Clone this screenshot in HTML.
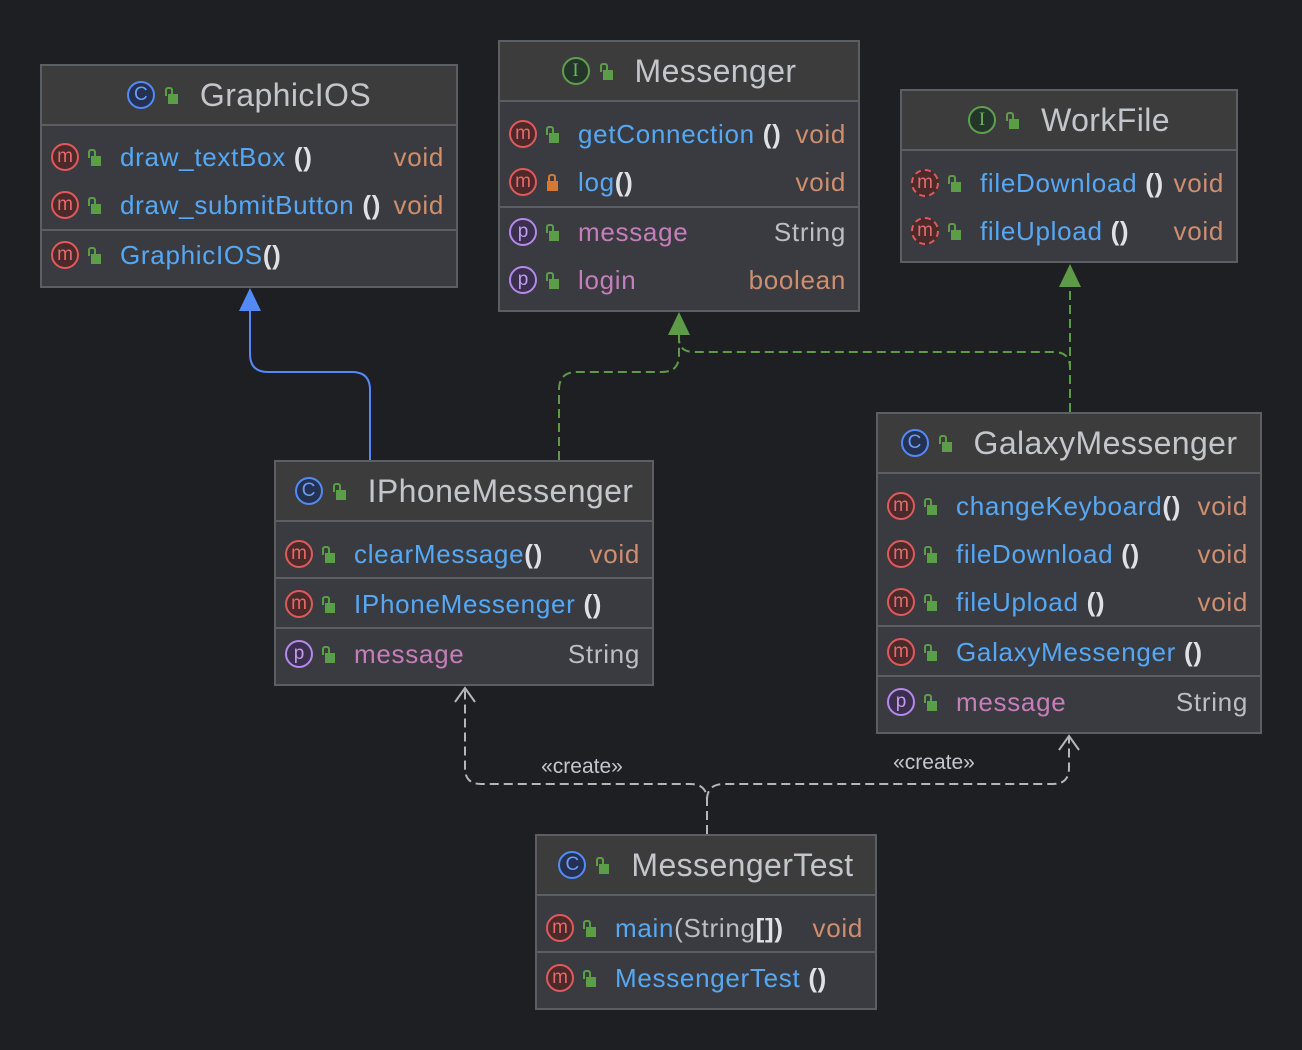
<!DOCTYPE html>
<html><head><meta charset="utf-8"><style>
body{margin:0;width:1302px;height:1050px;background:#1e1f22;position:relative;overflow:hidden;font-family:"Liberation Sans",sans-serif}
.b{position:absolute;background:#393b40;border:2px solid #5b5e63;box-sizing:border-box}
.h{position:absolute;left:0;right:0;top:0;background:#3c3c3c;border-bottom:2px solid #5b5e63;display:flex;align-items:center;justify-content:center;color:#c4c6cb;font-size:32px;letter-spacing:0.4px}
.h .i{margin-right:10px}.h .l{margin-right:22px}
.s{position:absolute;left:0;right:0;height:2px;background:#5b5e63}
.r{position:absolute;left:0;right:0;height:48px;display:flex;align-items:center;font-size:26px;letter-spacing:0.7px;color:#56a8f5}
.r .i{position:absolute;left:9px}.r .l{position:absolute;left:46px}
.r .n{position:absolute;left:78px;white-space:nowrap}
.r .t{position:absolute;right:12px;color:#cf8e6d}
.r .t.g{color:#bcbec4}
.pp{color:#dfe1e5;font-weight:bold}
.f{color:#c77dbb}
.i{display:inline-block;width:24px;height:24px;border-radius:50%;border:2px solid;font-size:19px;line-height:23px;text-align:center;letter-spacing:0;font-family:"Liberation Sans",sans-serif}
.m{border-color:#e05a5a;background:#4b2a2c;color:#e86a6a}
.m.d{border-style:dashed}
.c{border-color:#548af7;background:#243150;color:#6c9cf8}
.it{border-color:#5fa050;background:#24352a;color:#6fb060;font-family:"Liberation Serif",serif}
.p{border-color:#b589ec;background:#3a2f4d;color:#c59af0}
.l{display:inline-block;width:13px;height:17px;position:relative}
.l:before{content:"";position:absolute;left:3px;top:7px;width:10px;height:10px;background:#5a9e47}
.l:after{content:"";position:absolute;left:0;top:0;width:4px;height:7px;border:2px solid #5a9e47;border-bottom:none;border-radius:3px 3px 0 0}
.lk:before{background:#d9772f;left:1px;width:11px}
.lk:after{border-color:#d9772f;left:2px}
</style></head><body>
<svg width="1302" height="1050" style="position:absolute;left:0;top:0">
<g fill="none" stroke-width="2">
<path d="M370 460 V390 Q370 372 352 372 H268 Q250 372 250 354 V308" stroke="#548af7"/>
<path d="M559 460 V390 Q559 372 577 372 H662 Q679 372 679 355 V334" stroke="#5e9b47" stroke-dasharray="9 5"/>
<path d="M1070 412 V368 Q1070 352 1054 352 H694 Q680 352 679 340" stroke="#5e9b47" stroke-dasharray="9 5"/>
<path d="M1070 412 V285" stroke="#5e9b47" stroke-dasharray="9 5"/>
<path d="M707 834 V800 Q707 784 690 784 H481 Q465 784 465 768 V690" stroke="#b4b6ba" stroke-dasharray="9 5"/>
<path d="M707 800 Q707 784 724 784 H1053 Q1069 784 1069 768 V738" stroke="#b4b6ba" stroke-dasharray="9 5"/>
<path d="M455 702 L465 688 L475 702 M1059 750 L1069 736 L1079 750" stroke="#b4b6ba"/>
</g>
<path d="M239 311 L250 288 L261 311Z" fill="#548af7"/>
<path d="M668 335 L679 312 L690 335Z" fill="#5e9b47"/>
<path d="M1059 287 L1070 264 L1081 287Z" fill="#5e9b47"/>
<text x="582" y="773" font-size="21" fill="#c4c6cb" text-anchor="middle" font-family="Liberation Sans">«create»</text>
<text x="934" y="769" font-size="21" fill="#c4c6cb" text-anchor="middle" font-family="Liberation Sans">«create»</text>
</svg>

<div class="b" style="left:40px;top:64px;width:418px;height:224px">
<div class="h" style="height:58px"><span class="i c">C</span><span class="l"></span>GraphicIOS</div>
<div class="r" style="top:67px"><span class="i m">m</span><span class="l"></span><span class="n">draw_textBox <span class="pp">()</span></span><span class="t">void</span></div>
<div class="r" style="top:115px"><span class="i m">m</span><span class="l"></span><span class="n">draw_submitButton <span class="pp">()</span></span><span class="t">void</span></div>
<div class="s" style="top:163px"></div>
<div class="r" style="top:165px"><span class="i m">m</span><span class="l"></span><span class="n">GraphicIOS<span class="pp">()</span></span></div>
</div>

<div class="b" style="left:498px;top:40px;width:362px;height:272px">
<div class="h" style="height:58px"><span class="i it">I</span><span class="l"></span>Messenger</div>
<div class="r" style="top:68px"><span class="i m">m</span><span class="l"></span><span class="n">getConnection <span class="pp">()</span></span><span class="t">void</span></div>
<div class="r" style="top:116px"><span class="i m">m</span><span class="l lk"></span><span class="n">log<span class="pp">()</span></span><span class="t">void</span></div>
<div class="s" style="top:164px"></div>
<div class="r" style="top:166px"><span class="i p">p</span><span class="l"></span><span class="n f">message</span><span class="t g">String</span></div>
<div class="r" style="top:214px"><span class="i p">p</span><span class="l"></span><span class="n f">login</span><span class="t">boolean</span></div>
</div>

<div class="b" style="left:900px;top:89px;width:338px;height:174px">
<div class="h" style="height:58px"><span class="i it">I</span><span class="l"></span>WorkFile</div>
<div class="r" style="top:68px"><span class="i m d">m</span><span class="l"></span><span class="n">fileDownload <span class="pp">()</span></span><span class="t">void</span></div>
<div class="r" style="top:116px"><span class="i m d">m</span><span class="l"></span><span class="n">fileUpload <span class="pp">()</span></span><span class="t">void</span></div>
</div>

<div class="b" style="left:274px;top:460px;width:380px;height:226px">
<div class="h" style="height:58px"><span class="i c">C</span><span class="l"></span>IPhoneMessenger</div>
<div class="r" style="top:68px"><span class="i m">m</span><span class="l"></span><span class="n">clearMessage<span class="pp">()</span></span><span class="t">void</span></div>
<div class="s" style="top:115px"></div>
<div class="r" style="top:118px"><span class="i m">m</span><span class="l"></span><span class="n">IPhoneMessenger <span class="pp">()</span></span></div>
<div class="s" style="top:165px"></div>
<div class="r" style="top:168px"><span class="i p">p</span><span class="l"></span><span class="n f">message</span><span class="t g">String</span></div>
</div>

<div class="b" style="left:876px;top:412px;width:386px;height:322px">
<div class="h" style="height:58px"><span class="i c">C</span><span class="l"></span>GalaxyMessenger</div>
<div class="r" style="top:68px"><span class="i m">m</span><span class="l"></span><span class="n">changeKeyboard<span class="pp">()</span></span><span class="t">void</span></div>
<div class="r" style="top:116px"><span class="i m">m</span><span class="l"></span><span class="n">fileDownload <span class="pp">()</span></span><span class="t">void</span></div>
<div class="r" style="top:164px"><span class="i m">m</span><span class="l"></span><span class="n">fileUpload <span class="pp">()</span></span><span class="t">void</span></div>
<div class="s" style="top:211px"></div>
<div class="r" style="top:214px"><span class="i m">m</span><span class="l"></span><span class="n">GalaxyMessenger <span class="pp">()</span></span></div>
<div class="s" style="top:261px"></div>
<div class="r" style="top:264px"><span class="i p">p</span><span class="l"></span><span class="n f">message</span><span class="t g">String</span></div>
</div>

<div class="b" style="left:535px;top:834px;width:342px;height:176px">
<div class="h" style="height:58px"><span class="i c">C</span><span class="l"></span>MessengerTest</div>
<div class="r" style="top:68px"><span class="i m">m</span><span class="l"></span><span class="n">main<span style="color:#bcbec4">(String</span><span class="pp">[])</span></span><span class="t">void</span></div>
<div class="s" style="top:115px"></div>
<div class="r" style="top:118px"><span class="i m">m</span><span class="l"></span><span class="n">MessengerTest <span class="pp">()</span></span></div>
</div>
</body></html>
